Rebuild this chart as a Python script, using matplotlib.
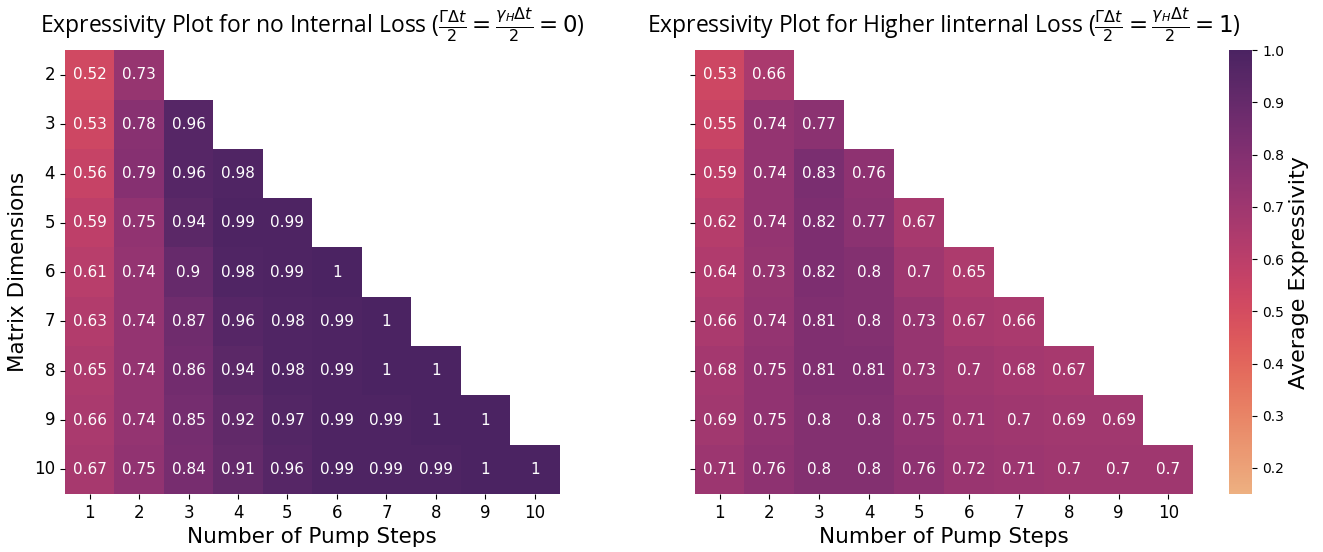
import numpy as np
import matplotlib
matplotlib.use("Agg")
import matplotlib.pyplot as plt
import seaborn as sns

# Expressividad media por dimension de matriz (filas) y pasos de bombeo (columnas)
dims = [2, 3, 4, 5, 6, 7, 8, 9, 10]
steps = [1, 2, 3, 4, 5, 6, 7, 8, 9, 10]

no_loss = [
    [0.52, 0.73],
    [0.53, 0.78, 0.96],
    [0.56, 0.79, 0.96, 0.98],
    [0.59, 0.75, 0.94, 0.99, 0.99],
    [0.61, 0.74, 0.90, 0.98, 0.99, 1.00],
    [0.63, 0.74, 0.87, 0.96, 0.98, 0.99, 1.00],
    [0.65, 0.74, 0.86, 0.94, 0.98, 0.99, 1.00, 1.00],
    [0.66, 0.74, 0.85, 0.92, 0.97, 0.99, 0.99, 1.00, 1.00],
    [0.67, 0.75, 0.84, 0.91, 0.96, 0.99, 0.99, 0.99, 1.00, 1.00],
]

high_loss = [
    [0.53, 0.66],
    [0.55, 0.74, 0.77],
    [0.59, 0.74, 0.83, 0.76],
    [0.62, 0.74, 0.82, 0.77, 0.67],
    [0.64, 0.73, 0.82, 0.80, 0.70, 0.65],
    [0.66, 0.74, 0.81, 0.80, 0.73, 0.67, 0.66],
    [0.68, 0.75, 0.81, 0.81, 0.73, 0.70, 0.68, 0.67],
    [0.69, 0.75, 0.80, 0.80, 0.75, 0.71, 0.70, 0.69, 0.69],
    [0.71, 0.76, 0.80, 0.80, 0.76, 0.72, 0.71, 0.70, 0.70, 0.70],
]


def to_grid(rows):
    grid = np.full((len(dims), len(steps)), np.nan)
    for i, r in enumerate(rows):
        grid[i, :len(r)] = r
    return grid


title_font = "Open Sans"

fig = plt.figure(figsize=(13.23, 5.52), dpi=100)
ax1 = fig.add_axes([0.049, 0.105, 0.374, 0.804])
ax2 = fig.add_axes([0.525, 0.105, 0.377, 0.804])
cax = fig.add_axes([0.929, 0.105, 0.0175, 0.804])

g1 = to_grid(no_loss)
g2 = to_grid(high_loss)

sns.heatmap(g1, mask=np.isnan(g1), ax=ax1, cmap="flare", vmin=0.15, vmax=1.0,
            annot=True, annot_kws={"size": 11}, cbar=False,
            xticklabels=steps, yticklabels=dims)
sns.heatmap(g2, mask=np.isnan(g2), ax=ax2, cmap="flare", vmin=0.15, vmax=1.0,
            annot=True, annot_kws={"size": 11}, cbar=True, cbar_ax=cax,
            xticklabels=steps, yticklabels=False)

ax1.set_yticklabels(dims, rotation=0)
ax2.set_yticks(np.arange(len(dims)) + 0.5)
ax2.set_yticklabels([])
for ax in (ax1, ax2):
    ax.tick_params(labelsize=12)
    ax.set_xlabel("Number of Pump Steps", fontsize=15.5)

ax1.set_ylabel("Matrix Dimensions", fontsize=15.5)
ax1.set_title(r"Expressivity Plot for no Internal Loss ($\frac{\Gamma\Delta t}{2}=\frac{\gamma_H\Delta t}{2}=0$)",
              fontsize=16.5, family=title_font, pad=12)
ax2.set_title(r"Expressivity Plot for Higher Iinternal Loss ($\frac{\Gamma\Delta t}{2}=\frac{\gamma_H\Delta t}{2}=1$)",
              fontsize=16.5, family=title_font, pad=12)

cax.set_yticks([0.2, 0.3, 0.4, 0.5, 0.6, 0.7, 0.8, 0.9, 1.0])
cax.tick_params(labelsize=10)
cax.set_ylabel("Average Expressivity", fontsize=16)

fig.savefig("out.png", dpi=100)
